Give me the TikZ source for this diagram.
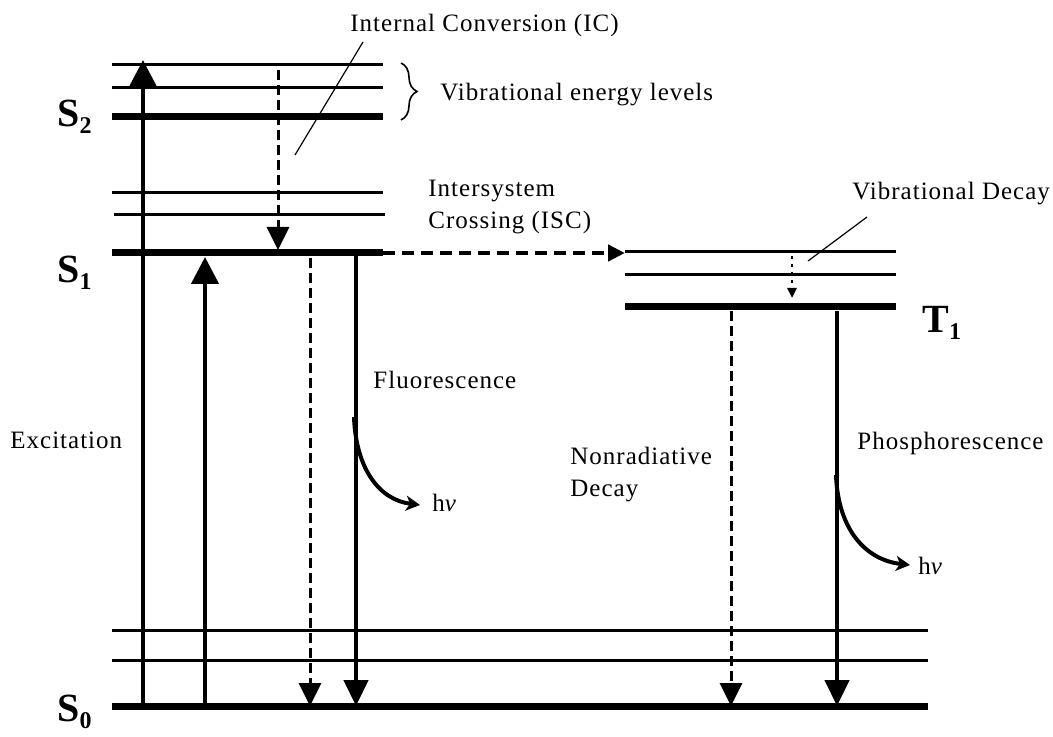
\documentclass[tikz,border=0pt]{standalone}
\usepackage{fontspec}
\setmainfont{Liberation Serif}
\newfontfamily\lblfont[LetterSpace=4.0]{Liberation Serif}
\usetikzlibrary{arrows.meta,decorations.pathreplacing}
\begin{document}
\begin{tikzpicture}[x=0.5pt,y=-0.5pt,
  thinlevel/.style={line width=1.5pt},
  thicklevel/.style={line width=3.5pt},
  bigarrow/.style={line width=2.2pt,-{Triangle[width=13.5pt,length=13.5pt]}},
  downarrow/.style={line width=2.2pt,-{Triangle[width=12pt,length=13pt]}},
  dasharrow/.style={line width=1.5pt,dash pattern=on 5pt off 2.5pt,-{Triangle[width=11pt,length=11.5pt]}},
  iscarrow/.style={line width=2.2pt,dash pattern=on 6pt off 3.5pt,-{Triangle[width=8pt,length=8.5pt]}},
  dotarrow/.style={line width=1.3pt,dash pattern=on 1.3pt off 2.7pt,-{Triangle[width=4.5pt,length=5pt]}},
  curvearrow/.style={line width=2pt,-{Stealth[width=7.5pt,length=7pt,inset=2pt]}},
  pointer/.style={line width=0.6pt},
  lbl/.style={font=\lblfont\fontsize{12.5}{15}\selectfont,inner sep=0pt,anchor=base west},
  statelbl/.style={font=\fontsize{20}{24}\selectfont\bfseries,inner sep=0pt,anchor=base west}
]
\useasboundingbox (0,0) rectangle (1053,737);
\newcommand{\stsub}[1]{\raisebox{-3.5pt}{\fontsize{12}{12}\selectfont\bfseries #1}}

% ---- level coordinates ----
\coordinate (s2a-l) at (112,65);  \coordinate (s2a-r) at (383,65);
\coordinate (s2b-l) at (112,88);  \coordinate (s2b-r) at (383,88);
\coordinate (s2c-l) at (112,117); \coordinate (s2c-r) at (383,117);
\coordinate (s1a-l) at (112,193); \coordinate (s1a-r) at (383,193);
\coordinate (s1b-l) at (114,215); \coordinate (s1b-r) at (385,215);
\coordinate (s1c-l) at (112,253); \coordinate (s1c-r) at (383,253);
\coordinate (t1a-l) at (625,252); \coordinate (t1a-r) at (896,252);
\coordinate (t1b-l) at (625,275); \coordinate (t1b-r) at (896,275);
\coordinate (t1c-l) at (625,307); \coordinate (t1c-r) at (896,307);
\coordinate (s0a-l) at (112,630); \coordinate (s0a-r) at (928,630);
\coordinate (s0b-l) at (112,660); \coordinate (s0b-r) at (928,660);
\coordinate (s0c-l) at (112,706); \coordinate (s0c-r) at (928,706);

\draw[thinlevel] (s2a-l) -- (s2a-r);
\draw[thinlevel] (s2b-l) -- (s2b-r);
\draw[thicklevel] (s2c-l) -- (s2c-r);
\draw[thinlevel] (s1a-l) -- (s1a-r);
\draw[thinlevel] (s1b-l) -- (s1b-r);
\draw[thicklevel] (s1c-l) -- (s1c-r);
\draw[thinlevel] (t1a-l) -- (t1a-r);
\draw[thinlevel] (t1b-l) -- (t1b-r);
\draw[thicklevel] (t1c-l) -- (t1c-r);
\draw[thinlevel] (s0a-l) -- (s0a-r);
\draw[thinlevel] (s0b-l) -- (s0b-r);
\draw[thicklevel] (s0c-l) -- (s0c-r);

% ---- state labels ----
\node[statelbl] (S2) at (57,127) {S\stsub{2}};
\node[statelbl] (S1) at (57,283) {S\stsub{1}};
\node[statelbl] (S0) at (57,721) {S\stsub{0}};
\node[statelbl] (T1) at (922,332) {T\stsub{1}};

% ---- transition coordinates ----
\coordinate (ex1b) at (143,706); \coordinate (ex1t) at (143,60);
\coordinate (ex2b) at (205,706); \coordinate (ex2t) at (205,257);
\coordinate (ict)  at (278,70);  \coordinate (icb)  at (278,250);
\coordinate (isc1) at (383,253); \coordinate (isc2) at (625,253);
\coordinate (fdt)  at (310,258); \coordinate (fdb)  at (310,706);
\coordinate (fst)  at (356,256); \coordinate (fsb)  at (356,706);
\coordinate (vdt)  at (792,256); \coordinate (vdb)  at (792,298);
\coordinate (ndt)  at (731,311); \coordinate (ndb)  at (731,706);
\coordinate (pht)  at (837,311); \coordinate (phb)  at (837,706);
\coordinate (fc1)  at (354,417); \coordinate (fc2)  at (420,505);
\coordinate (pc1)  at (836,475); \coordinate (pc2)  at (910,565);

\draw[bigarrow] (ex1b) -- (ex1t);
\draw[bigarrow] (ex2b) -- (ex2t);
\draw[dasharrow] (ict) -- (icb);
\draw[iscarrow] (isc1) -- (isc2);
\draw[dasharrow] (fdt) -- (fdb);
\draw[downarrow] (fst) -- (fsb);
\draw[dotarrow] (vdt) -- (vdb);
\draw[dasharrow] (ndt) -- (ndb);
\draw[downarrow] (pht) -- (phb);
\draw[curvearrow] (fc1) .. controls (356,470) and (380,500) .. (fc2);
\draw[curvearrow] (pc1) .. controls (838,530) and (866,560) .. (pc2);

% ---- text labels ----
\node[lbl] (ic) at (350,32) {Internal Conversion (IC)};
\coordinate (icp1) at (363,42); \coordinate (icp2) at (295,155);
\draw[pointer] (icp1) -- (icp2);

\coordinate (br1) at (401,63); \coordinate (br2) at (401,120);
\draw[line width=0.8pt,decorate,decoration={brace,amplitude=8pt}] (br1) -- (br2);
\node[lbl] (vel) at (440,101) {Vibrational energy levels};

\node[lbl] (isc) at (428,197) {Intersystem};
\node[lbl] (isc2l) at (428,229) {Crossing (ISC)};

\node[lbl] (vd) at (852,200) {Vibrational Decay};
\coordinate (vdp1) at (867,217); \coordinate (vdp2) at (808,261);
\draw[pointer] (vdp1) -- (vdp2);

\node[lbl] (fl) at (373,388) {Fluorescence};
\node[lbl] (ex) at (10,448) {Excitation};
\node[lbl] (nr1) at (570,464) {Nonradiative};
\node[lbl] (nr2) at (570,496) {Decay};
\node[lbl] (ph) at (857,449) {Phosphorescence};
\node[lbl] (hv1) at (432,511) {h\textit{ν}};
\node[lbl] (hv2) at (918,574) {h\textit{ν}};
\end{tikzpicture}
\end{document}
